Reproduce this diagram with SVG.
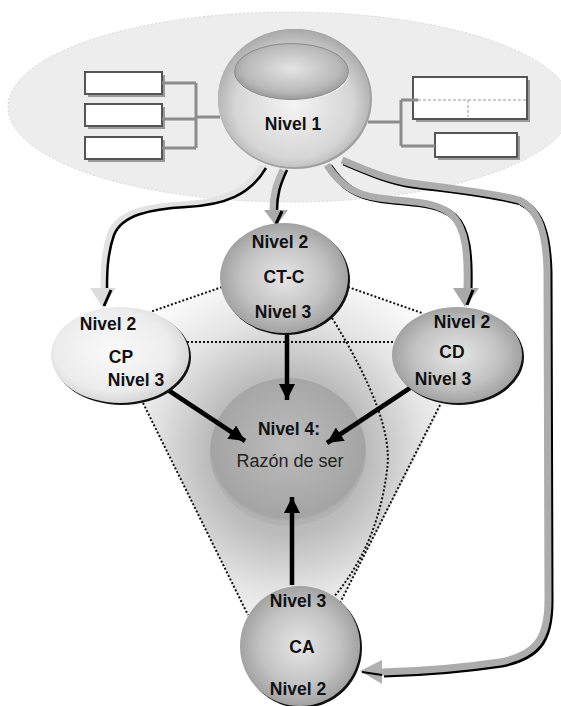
<svg xmlns="http://www.w3.org/2000/svg" width="561" height="706" viewBox="0 0 561 706">
<style>
.lbl{font-family:"Liberation Sans",Arial,sans-serif;font-weight:bold;font-size:17.5px;fill:#111;text-anchor:middle}
.lbl2{font-family:"Liberation Sans",Arial,sans-serif;font-size:18px;fill:#222;text-anchor:middle}
.box{fill:#fff;stroke:#555;stroke-width:2}
.bshadow{fill:#9a9a9a}
.brk{fill:none;stroke:#8c8c8c;stroke-width:3}
.dot{fill:none;stroke:#111;stroke-width:2;stroke-dasharray:2 2}
.ar{fill:none;stroke:#000;stroke-width:4.5}
.band{fill:none;stroke-width:7;stroke-linejoin:round}
.blk{fill:none;stroke:#000;stroke-width:2.5}
</style>
<defs>
<radialGradient id="gSphere" cx="0.5" cy="0.55" r="0.55">
<stop offset="0" stop-color="#f4f4f4"/><stop offset="0.7" stop-color="#d6d6d6"/><stop offset="1" stop-color="#a8a8a8"/>
</radialGradient>
<radialGradient id="gInner" cx="0.5" cy="0.45" r="0.6">
<stop offset="0" stop-color="#e4e4e4"/><stop offset="0.7" stop-color="#b8b8b8"/><stop offset="1" stop-color="#8e8e8e"/>
</radialGradient>
<radialGradient id="gNode" cx="0.5" cy="0.5" r="0.55">
<stop offset="0" stop-color="#e6e6e6"/><stop offset="0.6" stop-color="#c2c2c2"/><stop offset="1" stop-color="#999"/>
</radialGradient>
<radialGradient id="gCP" cx="0.45" cy="0.45" r="0.6">
<stop offset="0" stop-color="#fafafa"/><stop offset="0.7" stop-color="#ececec"/><stop offset="1" stop-color="#cfcfcf"/>
</radialGradient>
<radialGradient id="gN4" cx="0.5" cy="0.45" r="0.52">
<stop offset="0" stop-color="#bcbcbc"/><stop offset="0.8" stop-color="#a8a8a8"/><stop offset="0.95" stop-color="#a4a4a4"/><stop offset="1" stop-color="#aaa" stop-opacity="0.5"/>
</radialGradient>
<radialGradient id="gShade" gradientUnits="userSpaceOnUse" cx="288" cy="455" r="190">
<stop offset="0" stop-color="#a8a8a8"/><stop offset="0.42" stop-color="#bcbcbc"/><stop offset="0.72" stop-color="#e4e4e4"/><stop offset="1" stop-color="#fbfbfb"/>
</radialGradient>
<marker id="ah" viewBox="0 0 10 10" refX="10" refY="5" markerWidth="16" markerHeight="16" markerUnits="userSpaceOnUse" orient="auto">
<path d="M0,0 L10,5 L0,10 z" fill="#000"/>
</marker>
</defs>

<!-- background -->
<ellipse cx="290" cy="107" rx="282" ry="95" fill="#ededed" stroke="#d8d8d8" stroke-width="1" stroke-dasharray="2 2"/>
<polygon points="150,312 222,287 348,287 422,313 445,400 340,603 248,615 143,403 120,355" fill="url(#gShade)"/>

<!-- dotted lines -->
<g id="dotted">
<path class="dot" d="M222,287 L150,312"/>
<path class="dot" d="M348,287 L422,313"/>
<path class="dot" d="M187,342 L393,342"/>
<path class="dot" d="M143,403 L248,615"/>
<path class="dot" d="M440,405 L340,603"/>
<path class="dot" d="M332,318 Q395,420 387,470 Q378,545 333,598"/>
</g>

<!-- Nivel 1 -->
<g id="nivel1">
<g id="leftboxes">
<rect class="bshadow" x="88" y="75" width="77" height="22"/>
<rect class="box" x="85" y="72" width="77" height="22"/>
<rect class="bshadow" x="88" y="107" width="77" height="22"/>
<rect class="box" x="85" y="104" width="77" height="22"/>
<rect class="bshadow" x="88" y="140" width="77" height="22"/>
<rect class="box" x="85" y="137" width="77" height="22"/>
<path class="brk" d="M162,83 H196 M162,119 H196 M162,148 H196 M196,83 V148 M196,117 H220"/>
</g>
<g id="rightboxes">
<rect class="bshadow" x="416" y="80" width="114" height="42"/>
<rect class="box" x="413" y="77" width="114" height="42"/>
<rect class="bshadow" x="438" y="136" width="82" height="24"/>
<rect class="box" x="435" y="133" width="82" height="24"/>
<path d="M413,100 H527 M468,100 V117" fill="none" stroke="#bbb" stroke-width="1.5" stroke-dasharray="3 2"/>
<path class="brk" d="M368,122 H401 M401,100 V146 M401,100 H418 M401,146 H435"/>
</g>
<ellipse cx="295" cy="99" rx="77" ry="70" fill="#a0a0a0"/>
<ellipse cx="294" cy="98" rx="76" ry="69" fill="url(#gSphere)"/>
<ellipse cx="292" cy="73" rx="57" ry="28" fill="#f2f2f2"/>
<ellipse cx="291.5" cy="71.5" rx="57" ry="28" fill="url(#gInner)" stroke="#8a8a8a" stroke-width="1"/>
<text class="lbl" x="293" y="130">Nivel 1</text>
</g>

<!-- Nivel 4 -->
<g id="nivel4">
<ellipse cx="288" cy="452" rx="78" ry="74" fill="url(#gN4)"/>
<text class="lbl" x="289" y="435">Nivel 4:</text>
<text class="lbl2" x="290" y="467">Razón de ser</text>
</g>

<!-- connectors -->
<g id="connectors">
<!-- to CP -->
<path class="band" stroke="#e2e2e2" transform="translate(-3,-2)" d="M266,168 C250,195 225,205 186,207 C150,209 122,215 114,235 C107,255 107,275 107,290"/>
<path class="blk" d="M266,168 C250,195 225,205 186,207 C150,209 122,215 114,235 C107,255 107,275 107,290"/>
<polygon points="90,288 116,288 103,308" fill="#dcdcdc"/>
<path d="M111,290 L104,306" stroke="#000" stroke-width="3"/>
<!-- to CT-C -->
<path class="band" stroke="#b4b4b4" transform="translate(-4,0)" d="M287,170 C280,185 277,195 277,211"/>
<path class="blk" d="M287,170 C280,185 277,195 277,211"/>
<polygon points="264,210 288,210 276,226" fill="#aaa"/>
<path d="M282,211 L276,224" stroke="#000" stroke-width="3"/>
<!-- to CD -->
<path class="band" stroke="#000" transform="translate(2,1.5)" d="M327,165 C340,185 355,195 379,198 C405,202 435,200 452,215 C466,228 468,255 467,289"/>
<path class="band" stroke="#acacac" d="M327,165 C340,185 355,195 379,198 C405,202 435,200 452,215 C466,228 468,255 467,289"/>
<polygon points="453,288 479,288 465,307" fill="#a8a8a8"/>
<path d="M473,290 L467,305" stroke="#000" stroke-width="3"/>
<!-- to CA -->
<path class="band" stroke="#000" transform="translate(2,2)" d="M342,160 C370,172 390,180 411,183 C440,187 490,192 519,200 C540,210 546,235 547,270 L548,600 C548,640 535,655 500,662 C460,668 420,671 382,672"/>
<path class="band" stroke="#acacac" d="M342,160 C370,172 390,180 411,183 C440,187 490,192 519,200 C540,210 546,235 547,270 L548,600 C548,640 535,655 500,662 C460,668 420,671 382,672"/>
<polygon points="382,660 382,684 360,671" fill="#b0b0b0"/>
<path d="M382,675 L362,672" stroke="#000" stroke-width="2"/>
<!-- inner arrows -->
<path class="ar" marker-end="url(#ah)" d="M287,333 L287,400"/>
<path class="ar" marker-end="url(#ah)" d="M168,390 L245,441"/>
<path class="ar" marker-end="url(#ah)" d="M410,388 L327,443"/>
<path class="ar" marker-end="url(#ah)" d="M292,585 L292,497"/>
</g>

<!-- CT-C -->
<g id="ctc">
<ellipse cx="286" cy="280" rx="64" ry="55" fill="#111"/>
<ellipse cx="284" cy="278" rx="64" ry="55" fill="url(#gNode)"/>
<text class="lbl" x="280" y="248">Nivel 2</text>
<text class="lbl" x="284" y="283">CT-C</text>
<text class="lbl" x="283" y="318">Nivel 3</text>
</g>

<!-- CP -->
<g id="cp">
<ellipse cx="122" cy="357" rx="69" ry="48" fill="#111"/>
<ellipse cx="120" cy="355" rx="69" ry="48" fill="url(#gCP)"/>
<text class="lbl" x="108" y="330">Nivel 2</text>
<text class="lbl" x="121" y="363">CP</text>
<text class="lbl" x="136" y="386">Nivel 3</text>
</g>

<!-- CD -->
<g id="cd">
<ellipse cx="459" cy="357" rx="65" ry="48" fill="#111"/>
<ellipse cx="457" cy="355" rx="65" ry="48" fill="url(#gNode)"/>
<text class="lbl" x="462" y="328">Nivel 2</text>
<text class="lbl" x="452" y="358">CD</text>
<text class="lbl" x="443" y="385">Nivel 3</text>
</g>

<!-- CA -->
<g id="ca">
<circle cx="302" cy="648" r="60" fill="#111"/>
<circle cx="300" cy="646" r="60" fill="url(#gNode)"/>
<text class="lbl" x="298" y="607">Nivel 3</text>
<text class="lbl" x="302" y="653">CA</text>
<text class="lbl" x="298" y="695">Nivel 2</text>
</g>
</svg>
